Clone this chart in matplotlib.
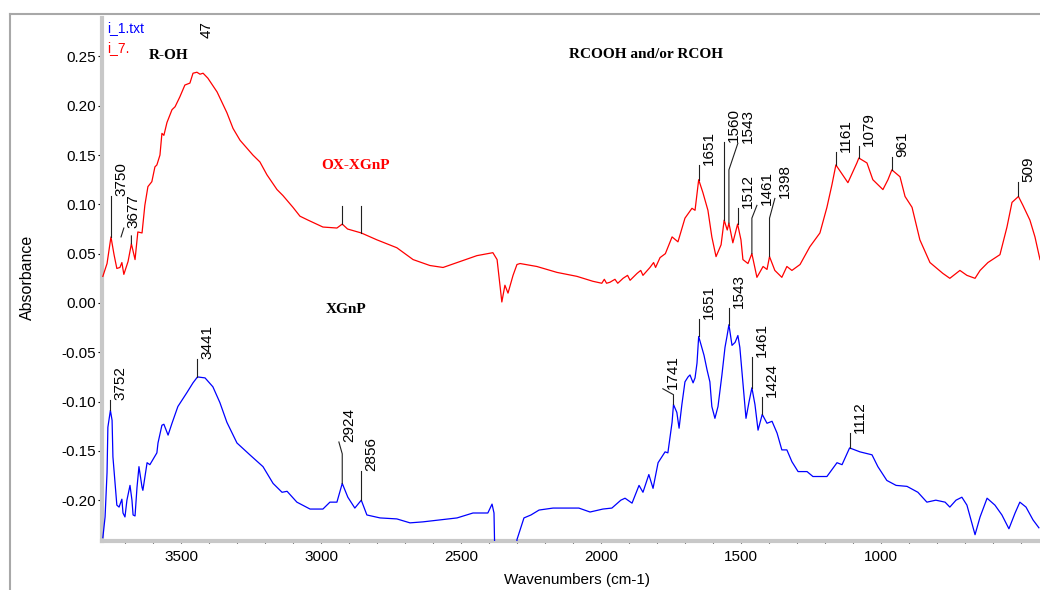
import numpy as np
import matplotlib
matplotlib.use('Agg')
import matplotlib.pyplot as plt
from matplotlib.lines import Line2D
import matplotlib.transforms as mtrans
from matplotlib.ticker import MultipleLocator, FixedLocator, FuncFormatter

plt.rcParams['font.family'] = ['Liberation Sans', 'DejaVu Sans']

# ---------------- data ----------------
red_wn = [3779, 3764, 3750, 3739, 3729, 3718, 3711, 3704, 3689, 3677, 3664, 3654, 3639, 3629,
          3618, 3604, 3593, 3586, 3575, 3568, 3561, 3550, 3532, 3521, 3504, 3486, 3468, 3457,
          3443, 3432, 3421, 3404, 3371, 3336, 3314, 3289, 3243, 3218, 3193, 3157, 3136, 3100,
          3075, 3046, 2993, 2943, 2924, 2905, 2856, 2800, 2729, 2671, 2611, 2564, 2514, 2443,
          2386, 2371, 2354, 2343, 2332, 2314, 2300, 2289, 2229, 2157, 2086, 2029, 1997, 1988,
          1980, 1968, 1950, 1940, 1921, 1905, 1896, 1871, 1858, 1850, 1825, 1812, 1805, 1789,
          1770, 1746, 1725, 1700, 1675, 1664, 1651, 1636, 1618, 1604, 1589, 1571, 1560, 1549,
          1543, 1529, 1512, 1500, 1493, 1475, 1461, 1443, 1421, 1407, 1398, 1379, 1354, 1336,
          1318, 1289, 1254, 1218, 1193, 1175, 1161, 1118, 1086, 1079, 1050, 1029, 993, 975,
          961, 932, 914, 889, 861, 825, 779, 754, 718, 693, 664, 646, 618, 575, 550, 532, 509,
          493, 468, 450, 432]
red_abs = [0.027, 0.040, 0.067, 0.049, 0.035, 0.036, 0.041, 0.029, 0.042, 0.060, 0.044, 0.072,
           0.071, 0.099, 0.118, 0.123, 0.138, 0.140, 0.150, 0.172, 0.170, 0.183, 0.196, 0.199,
           0.209, 0.221, 0.223, 0.233, 0.234, 0.232, 0.233, 0.228, 0.214, 0.193, 0.177, 0.165,
           0.150, 0.143, 0.130, 0.115, 0.109, 0.097, 0.088, 0.084, 0.077, 0.076, 0.080, 0.075,
           0.071, 0.064, 0.056, 0.044, 0.038, 0.036, 0.041, 0.048, 0.051, 0.044, 0.001, 0.018,
           0.010, 0.028, 0.039, 0.040, 0.037, 0.031, 0.027, 0.022, 0.020, 0.024, 0.020, 0.021,
           0.024, 0.020, 0.025, 0.028, 0.023, 0.030, 0.033, 0.028, 0.036, 0.041, 0.036, 0.046,
           0.050, 0.067, 0.062, 0.086, 0.096, 0.094, 0.125, 0.112, 0.094, 0.067, 0.047, 0.059,
           0.084, 0.074, 0.081, 0.061, 0.080, 0.064, 0.044, 0.040, 0.050, 0.026, 0.037, 0.034,
           0.047, 0.033, 0.026, 0.037, 0.033, 0.039, 0.057, 0.071, 0.097, 0.120, 0.140, 0.122,
           0.142, 0.147, 0.142, 0.125, 0.115, 0.125, 0.135, 0.128, 0.108, 0.097, 0.064, 0.041,
           0.030, 0.025, 0.033, 0.028, 0.025, 0.033, 0.041, 0.049, 0.077, 0.102, 0.108, 0.099,
           0.084, 0.067, 0.044]

blue_wn = [3779, 3771, 3764, 3761, 3752, 3746, 3743, 3729, 3721, 3711, 3707, 3700, 3693, 3682,
           3675, 3671, 3664, 3657, 3650, 3639, 3636, 3621, 3611, 3586, 3582, 3568, 3561, 3546,
           3532, 3511, 3479, 3457, 3441, 3414, 3386, 3361, 3336, 3300, 3254, 3207, 3171, 3139,
           3121, 3086, 3039, 2993, 2968, 2943, 2924, 2904, 2879, 2856, 2836, 2789, 2729, 2682,
           2636, 2575, 2514, 2457, 2404, 2389, 2382, 2376, 2306, 2300, 2275, 2250, 2221, 2171,
           2079, 2039, 1993, 1961, 1929, 1914, 1889, 1864, 1850, 1829, 1814, 1796, 1771, 1761,
           1746, 1741, 1729, 1721, 1711, 1700, 1689, 1682, 1671, 1664, 1657, 1651, 1639, 1632,
           1621, 1611, 1604, 1593, 1582, 1568, 1557, 1550, 1543, 1532, 1521, 1511, 1504, 1493,
           1482, 1471, 1461, 1450, 1439, 1424, 1407, 1389, 1371, 1354, 1336, 1318, 1296, 1264,
           1243, 1193, 1157, 1139, 1112, 1075, 1032, 1011, 979, 946, 907, 868, 836, 804, 771,
           754, 732, 711, 693, 664, 646, 621, 593, 568, 543, 521, 504, 482, 457, 436]
blue_abs = [-0.238, -0.217, -0.172, -0.126, -0.109, -0.119, -0.156, -0.205, -0.207, -0.199,
            -0.213, -0.217, -0.200, -0.185, -0.200, -0.215, -0.216, -0.187, -0.166, -0.187,
            -0.190, -0.162, -0.164, -0.152, -0.142, -0.124, -0.123, -0.134, -0.122, -0.105,
            -0.091, -0.081, -0.075, -0.076, -0.085, -0.101, -0.121, -0.142, -0.154, -0.166,
            -0.183, -0.192, -0.191, -0.202, -0.209, -0.209, -0.202, -0.202, -0.183, -0.197,
            -0.208, -0.200, -0.215, -0.218, -0.219, -0.223, -0.222, -0.220, -0.218, -0.213,
            -0.213, -0.204, -0.213, -0.300, -0.300, -0.240, -0.218, -0.215, -0.210, -0.208,
            -0.208, -0.212, -0.209, -0.208, -0.200, -0.198, -0.203, -0.185, -0.192, -0.174,
            -0.188, -0.162, -0.151, -0.152, -0.121, -0.103, -0.111, -0.127, -0.103, -0.080,
            -0.075, -0.073, -0.081, -0.076, -0.061, -0.034, -0.046, -0.053, -0.068, -0.080,
            -0.105, -0.117, -0.105, -0.073, -0.045, -0.034, -0.022, -0.043, -0.040, -0.033,
            -0.045, -0.081, -0.117, -0.100, -0.086, -0.103, -0.129, -0.113, -0.122, -0.120,
            -0.132, -0.149, -0.149, -0.161, -0.171, -0.171, -0.176, -0.176, -0.162, -0.164,
            -0.147, -0.151, -0.154, -0.166, -0.180, -0.185, -0.186, -0.192, -0.202, -0.200,
            -0.202, -0.207, -0.200, -0.197, -0.205, -0.235, -0.217, -0.198, -0.205, -0.215,
            -0.229, -0.213, -0.202, -0.207, -0.220, -0.228]

x_tick_values = [3500, 3000, 2500, 2000, 1500, 1000]

red_peak_labels = ['3750', '3677', '1651', '1560', '1543', '1512', '1461', '1398',
                   '1161', '1079', '961', '509']
blue_peak_labels = ['3752', '3441', '2924', '2856', '1741', '1651', '1543', '1461',
                    '1424', '1112']

# leader-line geometry (wavenumber, absorbance) for each label: peak -> top (-> bend)
nan = float('nan')
red_leaders = [
    [(3750, 0.067), (3750, 0.108)],
    [(3677, 0.060), (3677, 0.068), (nan, nan), (3714, 0.067), (3704, 0.076)],
    [(1651, 0.125), (1651, 0.140)],
    [(1560, 0.084), (1560, 0.163)],
    [(1543, 0.081), (1543, 0.135), (1511, 0.162)],
    [(1512, 0.080), (1512, 0.096)],
    [(1461, 0.050), (1461, 0.086), (1443, 0.099)],
    [(1398, 0.047), (1398, 0.086), (1379, 0.106)],
    [(1161, 0.140), (1161, 0.153)],
    [(1079, 0.147), (1079, 0.159)],
    [(961, 0.135), (961, 0.148)],
    [(509, 0.108), (509, 0.123)],
]
red_plain_marks = [[(2924, 0.080), (2924, 0.098)], [(2856, 0.071), (2856, 0.098)]]
blue_leaders = [
    [(3752, -0.109), (3752, -0.098)],
    [(3441, -0.075), (3441, -0.057)],
    [(2924, -0.183), (2924, -0.153), (2936, -0.141)],
    [(2856, -0.200), (2856, -0.170)],
    [(1741, -0.103), (1741, -0.093), (1779, -0.087)],
    [(1651, -0.034), (1651, -0.016)],
    [(1543, -0.022), (1543, -0.005)],
    [(1461, -0.086), (1461, -0.055)],
    [(1424, -0.113), (1424, -0.095)],
    [(1112, -0.147), (1112, -0.132)],
]

W, H = 1040, 590
fig = plt.figure(figsize=(W / 100, H / 100), dpi=100)
ax = fig.add_axes([102 / W, 49 / H, 938 / W, 523 / H])

ax.plot(red_wn, red_abs, color='#ff0000', lw=0.9, zorder=3)
ax.plot(blue_wn, blue_abs, color='#0000ff', lw=0.9, zorder=3)

ax.set_xlim(3782, 432)
ax.set_ylim(-0.2414, 0.2890)

for s in ['top', 'right']:
    ax.spines[s].set_visible(False)
for s in ['left', 'bottom']:
    ax.spines[s].set_color('#c8c8c8')
    ax.spines[s].set_linewidth(3)

ax.xaxis.set_major_locator(FixedLocator(x_tick_values))
ax.xaxis.set_minor_locator(MultipleLocator(100))
ax.yaxis.set_major_locator(MultipleLocator(0.05))
ax.yaxis.set_minor_locator(MultipleLocator(0.01))
ax.yaxis.set_major_formatter(FuncFormatter(lambda v, p: f'{0.0 if abs(v) < 1e-9 else v:.2f}'))
ax.xaxis.set_major_formatter(FuncFormatter(lambda v, p: f'{v:.0f}'))

ax.tick_params(axis='y', which='major', direction='out', length=3, width=0.8,
               pad=1, labelsize=11, color='black')
ax.tick_params(axis='y', which='minor', direction='inout', length=2, width=0.8, color='black')
ax.tick_params(axis='x', which='both', direction='inout', length=3, width=0.8, color='black')
ax.tick_params(axis='x', which='major', pad=5, labelsize=11)

off = mtrans.offset_copy(ax.transData, fig=fig, x=3, y=0, units='dots')


def draw_leaders(leaders, labels):
    for path, lab in zip(leaders, labels):
        xs = [p[0] for p in path]
        ys = [p[1] for p in path]
        ax.plot(xs, ys, color='#202020', lw=0.8, zorder=4)
        if lab:
            ax.text(xs[-1], ys[-1], lab, rotation=90, ha='left', va='bottom',
                    fontsize=11, color='black', transform=off, zorder=5)


draw_leaders(red_leaders, red_peak_labels)
draw_leaders(red_plain_marks, ['', ''])
draw_leaders(blue_leaders, blue_peak_labels)

# clipped label at top
ax.text(3432, 0.269, '47', rotation=90, ha='left', va='bottom', fontsize=11, color='black')

# group labels (serif)
serif = ['Liberation Serif', 'DejaVu Serif']
ax.text(3543, 0.2505, 'R-OH', family=serif, weight='bold', fontsize=11, ha='center', va='center')
ax.text(1839, 0.2515, 'RCOOH and/or RCOH', family=serif, weight='bold', fontsize=11,
        ha='center', va='center')
ax.text(2875, 0.139, 'OX-XGnP', family=serif, weight='bold', fontsize=11, color='#ff0000',
        ha='center', va='center')
ax.text(2911, -0.007, 'XGnP', family=serif, weight='bold', fontsize=11, ha='center', va='center')

# file-name legend
fig.text(107 / W, 1 - 21 / H, 'i_1.txt', color='#0000ff', fontsize=10, ha='left', va='top')
fig.text(107 / W, 1 - 41 / H, 'i_7.', color='#ff0000', fontsize=10, ha='left', va='top')

# axis titles
fig.text(27 / W, 1 - 277 / H, 'Absorbance', rotation=90, ha='center', va='center', fontsize=11.5)
fig.text(577 / W, 1 - 580 / H, 'Wavenumbers (cm-1)', ha='center', va='center', fontsize=11)

# outer grey frame
fig.add_artist(Line2D([10 / W, 10 / W], [0, 1 - 14 / H], transform=fig.transFigure,
                      color='#a8a8a8', lw=1.5))
fig.add_artist(Line2D([10 / W, 1], [1 - 14 / H, 1 - 14 / H], transform=fig.transFigure,
                      color='#a8a8a8', lw=1.5))

fig.savefig('out.png', dpi=100)
